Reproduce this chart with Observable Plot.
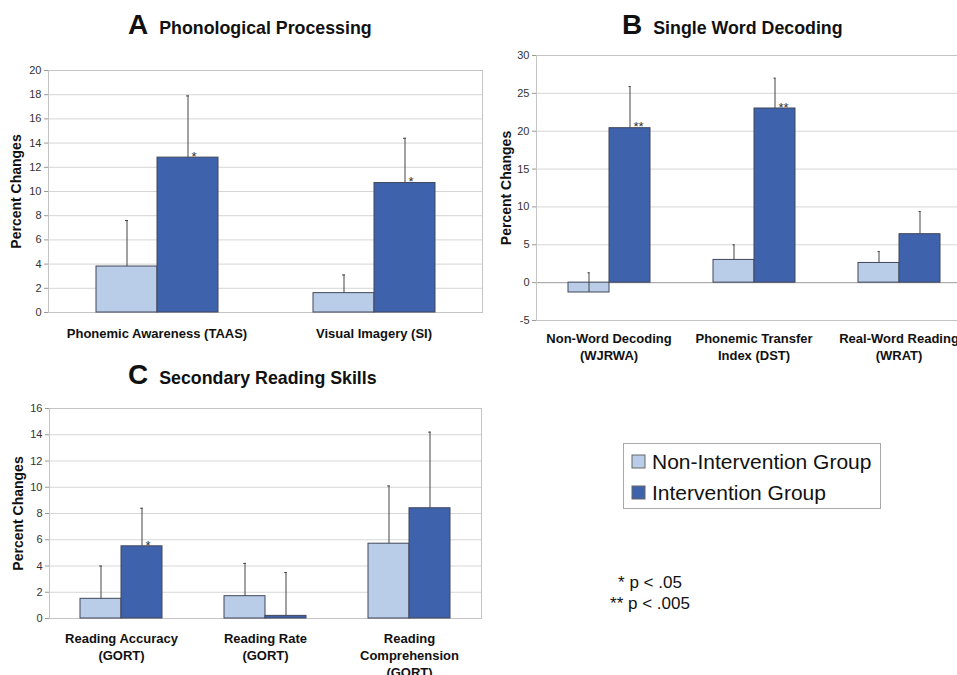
<!DOCTYPE html>
<html><head><meta charset="utf-8">
<script src="https://cdn.jsdelivr.net/npm/d3@7"></script>
<script src="https://cdn.jsdelivr.net/npm/@observablehq/plot@0.6"></script>
<style>
html,body{margin:0;padding:0;background:#fff;}
body{width:957px;height:675px;overflow:hidden;position:relative;font-family:"Liberation Sans",Arial,sans-serif;color:#111;}
.abs{position:absolute;}
.abs svg{max-width:none !important;}
.title{position:absolute;font-size:28px;line-height:28px;font-weight:bold;white-space:nowrap;color:#111;}
.title .sub{font-size:17.8px;margin-left:11px;}
.legbox{position:absolute;left:623px;top:443px;width:248px;height:62px;border:1px solid #a8a8a8;padding:2px 0 0 8px;background:#fff;}
.lg-swatch{padding-bottom:0 !important;}
.lg-swatch > svg{margin-right:7px !important;}
.lg-swatch svg rect{stroke:#666;stroke-width:1px;}
.foot{position:absolute;left:600px;top:572px;width:100px;text-align:center;font-size:17px;line-height:21px;color:#111;white-space:nowrap;}
</style></head><body>
<div class="title" style="left:128px;top:11px">A<span class="sub">Phonological Processing</span></div>
<div class="title" style="left:622px;top:11px">B<span class="sub">Single Word Decoding</span></div>
<div class="title" style="left:128px;top:361px">C<span class="sub">Secondary Reading Skills</span></div>
<div id="pa" class="abs" style="left:0;top:50px;width:484px"></div>
<div id="pb" class="abs" style="left:480px;top:40px;width:493px"></div>
<div id="pc" class="abs" style="left:0;top:395px;width:483px"></div>
<div id="leg" class="legbox"></div>
<div class="foot">* p &lt; .05<br>** p &lt; .005</div>
<script>
const groups = ["Non-Intervention Group", "Intervention Group"];
const colors = ["#b9cde8", "#3f62ad"];

// Panel A
const catsA = ["Phonemic Awareness (TAAS)", "Visual Imagery (SI)"];
const nonA = [3.8, 1.6];
const nonErrA = [3.8, 1.5];
const intA = [12.8, 10.7];
const intErrA = [5.1, 3.7];
const sigA = ["*", "*"];
const ticksA = [0, 2, 4, 6, 8, 10, 12, 14, 16, 18, 20];

// Panel B
const catsB = ["Non-Word Decoding\n(WJRWA)", "Phonemic Transfer\nIndex (DST)", "Real-Word Reading\n(WRAT)"];
const nonB = [-1.3, 3.0, 2.6];
const nonErrB = [2.6, 2.0, 1.5];
const intB = [20.4, 23.0, 6.4];
const intErrB = [5.5, 4.0, 3.0];
const sigB = ["**", "**", ""];
const ticksB = [-5, 0, 5, 10, 15, 20, 25, 30];

// Panel C
const catsC = ["Reading Accuracy\n(GORT)", "Reading Rate\n(GORT)", "Reading\nComprehension\n(GORT)"];
const nonC = [1.5, 1.7, 5.7];
const nonErrC = [2.5, 2.5, 4.4];
const intC = [5.5, 0.2, 8.4];
const intErrC = [2.9, 3.3, 5.8];
const sigC = ["*", "", ""];
const ticksC = [0, 2, 4, 6, 8, 10, 12, 14, 16];

const FONT = "'Liberation Sans', Arial, sans-serif";

function panel(o) {
  const rows = o.cats.flatMap((c, i) => [
    {cat: c, group: groups[0], value: o.non[i], err: o.nonErr[i], sig: ""},
    {cat: c, group: groups[1], value: o.int[i], err: o.intErr[i], sig: o.sig[i]}
  ]);
  return Plot.plot({
    width: o.width, height: o.height,
    marginLeft: o.ml, marginRight: o.mr, marginTop: o.mt, marginBottom: o.mb,
    style: {fontFamily: FONT, fontSize: "11px", color: "#333", background: "transparent", overflow: "visible", maxWidth: "none"},
    fx: {domain: o.cats, padding: 0, axis: null},
    x: {domain: groups, paddingInner: 0, paddingOuter: o.pad, axis: null},
    y: {domain: [o.ticks[0], o.ticks[o.ticks.length - 1]], axis: null},
    color: {domain: groups, range: colors},
    marks: [
      Plot.gridY(o.ticks, {stroke: "#d6d6d6", strokeOpacity: 1}),
      Plot.ruleY([0], {stroke: "#a6a6a6"}),
      Plot.frame({stroke: "#c4c4c4", facet: "super"}),
      Plot.axisY(o.ticks, {anchor: "left", tickSize: 4, tickPadding: 3, stroke: "#999", fontSize: 11, fill: "#333", label: null, tickFormat: d => String(d)}),
      Plot.text(["Percent Changes"], {facet: "super", frameAnchor: "left", rotate: -90, textAnchor: "middle", lineAnchor: "top", dx: o.ldx, fontSize: 14, fontWeight: "bold", fill: "#111"}),
      Plot.barY(rows, {fx: "cat", x: "group", y: "value", fill: "group", stroke: "#40475a", strokeWidth: 1}),
      Plot.ruleX(rows, {fx: "cat", x: "group", y1: "value", y2: d => d.value + d.err, stroke: "#444", strokeWidth: 1}),
      Plot.tickY(rows, {fx: "cat", x: "group", y: d => d.value + d.err, stroke: "#444", insetLeft: o.cap, insetRight: o.cap}),
      Plot.text(rows, {fx: "cat", x: "group", y: "value", text: "sig", textAnchor: "start", lineAnchor: "top", dx: 3.5, dy: -6, fontSize: 13, fill: "#333"}),
      Plot.text(o.cats, {fx: d => d, text: d => d, frameAnchor: "bottom", lineAnchor: "top", dy: o.cdy, fontSize: 13, fontWeight: "bold", fill: "#111", lineHeight: 1.31})
    ]
  });
}

document.getElementById("pa").append(panel({
  cats: catsA, non: nonA, nonErr: nonErrA, int: intA, intErr: intErrA, sig: sigA, ticks: ticksA,
  width: 484, height: 302, ml: 48, mr: 2, mt: 20, mb: 40, pad: 0.76, cap: 29, ldx: -37, cdy: 13
}));
document.getElementById("pb").append(panel({
  cats: catsB, non: nonB, nonErr: nonErrB, int: intB, intErr: intErrB, sig: sigB, ticks: ticksB,
  width: 493, height: 330, ml: 56, mr: 2, mt: 15, mb: 50, pad: 0.73, cap: 19.5, ldx: -35, cdy: 10
}));
document.getElementById("pc").append(panel({
  cats: catsC, non: nonC, nonErr: nonErrC, int: intC, intErr: intErrC, sig: sigC, ticks: ticksC,
  width: 483, height: 280, ml: 48, mr: 2, mt: 13, mb: 57, pad: 0.73, cap: 19.2, ldx: -36, cdy: 12
}));

document.getElementById("leg").append(Plot.legend({
  color: {domain: groups, range: colors},
  legend: "swatches", columns: 1, swatchSize: 13, className: "lg",
  style: {fontSize: "21px", lineHeight: "31px", fontFamily: FONT, color: "#111", margin: "0"}
}));
</script>
</body></html>
